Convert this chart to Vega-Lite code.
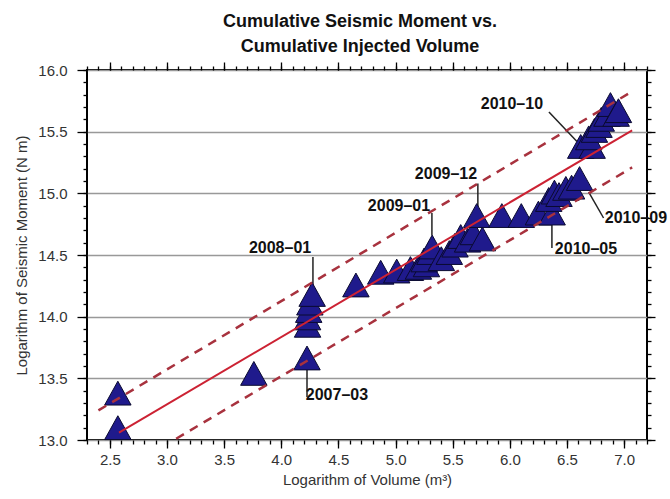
{
  "$schema": "https://vega.github.io/schema/vega-lite/v6.json",
  "width": 560,
  "height": 370,
  "autosize": "none",
  "padding": {"left": 87, "top": 70, "right": 23, "bottom": 59},
  "background": "white",
  "title": {
    "text": ["Cumulative Seismic Moment vs.", "Cumulative Injected Volume"],
    "font": "Liberation Sans",
    "fontSize": 18,
    "fontWeight": "bold",
    "color": "#111",
    "anchor": "middle",
    "lineHeight": 25,
    "offset": 5,
    "dx": -7
  },
  "config": {
    "view": {"stroke": "black", "strokeWidth": 2},
    "axis": {
      "labelFont": "Liberation Sans",
      "titleFont": "Liberation Sans",
      "labelColor": "#333",
      "titleColor": "#333",
      "tickColor": "black",
      "tickWidth": 1.3,
      "domain": false,
      "grid": false
    }
  },
  "datasets": {
    "pts": [
      {"logV": 2.57, "logM": 13.38},
      {"logV": 2.57, "logM": 13.1},
      {"logV": 3.76, "logM": 13.54},
      {"logV": 4.225, "logM": 13.665},
      {"logV": 4.23, "logM": 13.93},
      {"logV": 4.23, "logM": 13.99},
      {"logV": 4.24, "logM": 14.05},
      {"logV": 4.25, "logM": 14.11},
      {"logV": 4.27, "logM": 14.18},
      {"logV": 4.653, "logM": 14.257},
      {"logV": 4.87, "logM": 14.36},
      {"logV": 5.01, "logM": 14.37},
      {"logV": 5.13, "logM": 14.39},
      {"logV": 5.2, "logM": 14.4},
      {"logV": 5.27, "logM": 14.42},
      {"logV": 5.25, "logM": 14.46},
      {"logV": 5.3, "logM": 14.52},
      {"logV": 5.32, "logM": 14.565},
      {"logV": 5.4, "logM": 14.47},
      {"logV": 5.47, "logM": 14.52},
      {"logV": 5.52, "logM": 14.58},
      {"logV": 5.57, "logM": 14.65},
      {"logV": 5.63, "logM": 14.62},
      {"logV": 5.68, "logM": 14.68},
      {"logV": 5.71, "logM": 14.82},
      {"logV": 5.76, "logM": 14.63},
      {"logV": 5.93, "logM": 14.82},
      {"logV": 6.1, "logM": 14.82},
      {"logV": 6.25, "logM": 14.84},
      {"logV": 6.37, "logM": 14.84},
      {"logV": 6.34, "logM": 14.95},
      {"logV": 6.39, "logM": 15.01},
      {"logV": 6.43, "logM": 14.99},
      {"logV": 6.49, "logM": 15.04},
      {"logV": 6.54, "logM": 15.05},
      {"logV": 6.61, "logM": 15.12},
      {"logV": 6.62, "logM": 15.38},
      {"logV": 6.72, "logM": 15.38},
      {"logV": 6.69, "logM": 15.45},
      {"logV": 6.74, "logM": 15.51},
      {"logV": 6.78, "logM": 15.55},
      {"logV": 6.8, "logM": 15.6},
      {"logV": 6.85, "logM": 15.64},
      {"logV": 6.88, "logM": 15.72},
      {"logV": 6.93, "logM": 15.64},
      {"logV": 6.95, "logM": 15.67}
    ],
    "fit": [
      {"x1": 2.58, "y1": 13.06, "x2": 7.07, "y2": 15.51}
    ],
    "bounds": [
      {"x1": 2.4, "y1": 13.24, "x2": 7.04, "y2": 15.81},
      {"x1": 3.08, "y1": 13.01, "x2": 7.07, "y2": 15.21}
    ],
    "leaders": [
      {"x1": 4.277, "y1": 14.484, "x2": 4.277, "y2": 14.24},
      {"x1": 4.225, "y1": 13.584, "x2": 4.225, "y2": 13.349},
      {"x1": 5.318, "y1": 14.84, "x2": 5.318, "y2": 14.66},
      {"x1": 5.72, "y1": 15.08, "x2": 5.72, "y2": 14.89},
      {"x1": 6.342, "y1": 15.66, "x2": 6.587, "y2": 15.42},
      {"x1": 6.69, "y1": 15.01, "x2": 6.82, "y2": 14.8},
      {"x1": 6.368, "y1": 14.784, "x2": 6.368, "y2": 14.557}
    ],
    "labels": [
      {"lx": 3.989, "ly": 14.557, "label": "2008–01"},
      {"lx": 4.487, "ly": 13.365, "label": "2007–03"},
      {"lx": 5.03, "ly": 14.898, "label": "2009–01"},
      {"lx": 5.441, "ly": 15.157, "label": "2009–12"},
      {"lx": 6.018, "ly": 15.725, "label": "2010–10"},
      {"lx": 7.103, "ly": 14.8, "label": "2010–09"},
      {"lx": 6.666, "ly": 14.549, "label": "2010–05"}
    ]
  },
  "layer": [
    {
      "data": {"name": "pts"},
      "mark": {"type": "point", "opacity": 0},
      "encoding": {
        "x": {"field": "logV", "type": "quantitative", "scale": {"domain": [2.3, 7.2], "nice": false, "zero": false},
          "axis": {"orient": "bottom", "title": null, "labels": false, "tickSize": 4,
            "values": [2.3,2.4,2.5,2.6,2.7,2.8,2.9,3.0,3.1,3.2,3.3,3.4,3.5,3.6,3.7,3.8,3.9,4.0,4.1,4.2,4.3,4.4,4.5,4.6,4.7,4.8,4.9,5.0,5.1,5.2,5.3,5.4,5.5,5.6,5.7,5.8,5.9,6.0,6.1,6.2,6.3,6.4,6.5,6.6,6.7,6.8,6.9,7.0,7.1,7.2]}},
        "y": {"field": "logM", "type": "quantitative", "scale": {"domain": [13, 16], "nice": false, "zero": false},
          "axis": {"orient": "left", "title": null, "labels": false, "tickSize": 4,
            "values": [13.0,13.1,13.2,13.3,13.4,13.5,13.6,13.7,13.8,13.9,14.0,14.1,14.2,14.3,14.4,14.5,14.6,14.7,14.8,14.9,15.0,15.1,15.2,15.3,15.4,15.5,15.6,15.7,15.8,15.9,16.0]}}
      }
    },
    {
      "data": {"name": "pts"},
      "mark": {"type": "point", "opacity": 0},
      "encoding": {
        "x": {"field": "logV", "type": "quantitative",
          "axis": {"orient": "top", "title": null, "labels": false, "tickSize": 4,
            "values": [2.3,2.4,2.5,2.6,2.7,2.8,2.9,3.0,3.1,3.2,3.3,3.4,3.5,3.6,3.7,3.8,3.9,4.0,4.1,4.2,4.3,4.4,4.5,4.6,4.7,4.8,4.9,5.0,5.1,5.2,5.3,5.4,5.5,5.6,5.7,5.8,5.9,6.0,6.1,6.2,6.3,6.4,6.5,6.6,6.7,6.8,6.9,7.0,7.1,7.2]}},
        "y": {"field": "logM", "type": "quantitative",
          "axis": {"orient": "right", "title": null, "labels": false, "tickSize": 4,
            "values": [13.0,13.1,13.2,13.3,13.4,13.5,13.6,13.7,13.8,13.9,14.0,14.1,14.2,14.3,14.4,14.5,14.6,14.7,14.8,14.9,15.0,15.1,15.2,15.3,15.4,15.5,15.6,15.7,15.8,15.9,16.0]}}
      }
    },
    {
      "data": {"name": "pts"},
      "mark": {"type": "point", "opacity": 0},
      "encoding": {
        "x": {"field": "logV", "type": "quantitative",
          "axis": {"orient": "top", "title": null, "labels": false, "tickSize": 8,
            "values": [2.5,3.0,3.5,4.0,4.5,5.0,5.5,6.0,6.5,7.0]}},
        "y": {"field": "logM", "type": "quantitative",
          "axis": {"orient": "right", "title": null, "labels": false, "tickSize": 8,
            "values": [13.0,13.5,14.0,14.5,15.0,15.5,16.0]}}
      }
    },
    {
      "data": {"name": "pts"},
      "mark": {"type": "point", "opacity": 0},
      "encoding": {
        "x": {"field": "logV", "type": "quantitative",
          "axis": {"orient": "bottom", "title": "Logarithm of Volume (m³)", "titleFontSize": 15, "titleFontWeight": "normal", "titlePadding": 5,
            "labelFontSize": 15, "labelPadding": 4, "tickSize": 8, "format": ".1f",
            "values": [2.5,3.0,3.5,4.0,4.5,5.0,5.5,6.0,6.5,7.0]}},
        "y": {"field": "logM", "type": "quantitative",
          "axis": {"orient": "left", "title": "Logarithm of Seismic Moment (N m)", "titleFontSize": 15, "titleFontWeight": "normal", "titlePadding": 8,
            "labelFontSize": 15, "labelPadding": 10, "tickSize": 10, "format": ".1f",
            "grid": true, "gridColor": "#999", "gridWidth": 1.5,
            "values": [13.0,13.5,14.0,14.5,15.0,15.5,16.0]}}
      }
    },
    {
      "data": {"name": "leaders"},
      "mark": {"type": "rule", "color": "#222", "strokeWidth": 1.5},
      "encoding": {
        "x": {"field": "x1", "type": "quantitative", "axis": null},
        "y": {"field": "y1", "type": "quantitative", "axis": null},
        "x2": {"field": "x2"},
        "y2": {"field": "y2"}
      }
    },
    {
      "data": {"name": "pts"},
      "mark": {"type": "point", "shape": "M0,-0.9L1,0.9L-1,0.9Z", "size": 700, "filled": true, "fill": "#1f1a8c", "stroke": "#0a0a30", "strokeWidth": 1, "opacity": 1},
      "encoding": {
        "x": {"field": "logV", "type": "quantitative", "axis": null},
        "y": {"field": "logM", "type": "quantitative", "axis": null}
      }
    },
    {
      "data": {"name": "fit"},
      "mark": {"type": "rule", "color": "#cc2233", "strokeWidth": 2},
      "encoding": {
        "x": {"field": "x1", "type": "quantitative", "axis": null},
        "y": {"field": "y1", "type": "quantitative", "axis": null},
        "x2": {"field": "x2"},
        "y2": {"field": "y2"}
      }
    },
    {
      "data": {"name": "bounds"},
      "mark": {"type": "rule", "color": "#a8323e", "strokeWidth": 2.5, "strokeDash": [9, 7]},
      "encoding": {
        "x": {"field": "x1", "type": "quantitative", "axis": null},
        "y": {"field": "y1", "type": "quantitative", "axis": null},
        "x2": {"field": "x2"},
        "y2": {"field": "y2"}
      }
    },
    {
      "data": {"name": "labels"},
      "mark": {"type": "text", "font": "Liberation Sans", "fontSize": 16, "fontWeight": "bold", "color": "#111", "align": "center", "baseline": "middle"},
      "encoding": {
        "x": {"field": "lx", "type": "quantitative", "axis": null},
        "y": {"field": "ly", "type": "quantitative", "axis": null},
        "text": {"field": "label"}
      }
    }
  ],
  "resolve": {"axis": {"x": "independent", "y": "independent"}}
}
